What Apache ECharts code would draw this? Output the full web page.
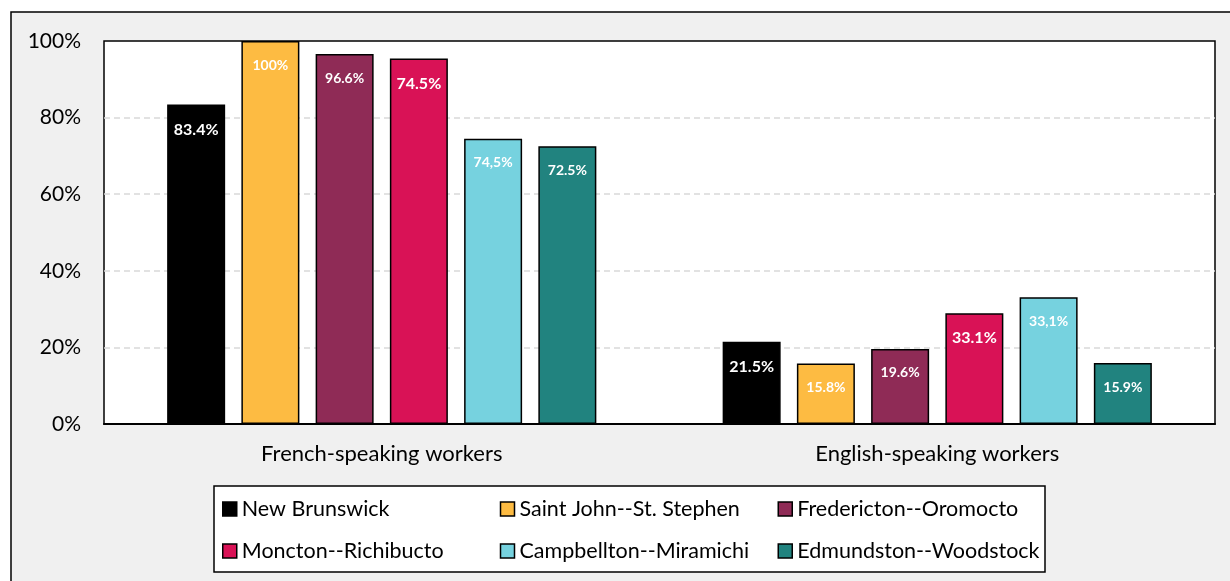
<!DOCTYPE html>
<html>
<head>
<meta charset="utf-8">
<script src="https://cdn.jsdelivr.net/npm/echarts@6/dist/echarts.min.js"></script>
<style>
  html, body { margin: 0; padding: 0; background: #fff; }
  #chart { width: 1230px; height: 581px; }
</style>
</head>
<body>
<div id="chart"></div>
<script>
// categories and series
const categories = ['French-speaking workers', 'English-speaking workers'];
const regions = [
  'New Brunswick',
  'Saint John--St. Stephen',
  'Fredericton--Oromocto',
  'Moncton--Richibucto',
  'Campbellton--Miramichi',
  'Edmundston--Woodstock'
];

// bar heights
const newBrunswick = [83.4, 21.5];
const saintJohn = [100, 15.8];
const fredericton = [96.6, 19.6];
const moncton = [95.4, 28.9];
const campbellton = [74.5, 33.1];
const edmundston = [72.5, 15.9];

// label texts as printed on the bars
const newBrunswickLabels = ['83.4%', '21.5%'];
const saintJohnLabels = ['100%', '15.8%'];
const frederictonLabels = ['96.6%', '19.6%'];
const monctonLabels = ['74.5%', '33.1%'];
const campbelltonLabels = ['74,5%', '33,1%'];
const edmundstonLabels = ['72.5%', '15.9%'];

const yTicks = [0, 20, 40, 60, 80, 100];

const values = [newBrunswick, saintJohn, fredericton, moncton, campbellton, edmundston];
const labels = [newBrunswickLabels, saintJohnLabels, frederictonLabels, monctonLabels, campbelltonLabels, edmundstonLabels];
const colors = ['#000000', '#FDBB42', '#8F2B56', '#D91256', '#76D2DF', '#21837F'];
const labelSizes = [16, 14, 14, 16, 14, 14];

const FONT = 'Lato, "Open Sans", sans-serif';

const series = regions.map((name, i) => ({
  name: name,
  type: 'bar',
  barWidth: 58,
  barGap: '28%',
  data: values[i],
  itemStyle: { color: colors[i], borderColor: '#000', borderWidth: 1.5 },
  label: {
    show: true,
    position: 'insideTop',
    distance: 17,
    color: '#fff',
    fontWeight: 'bold',
    fontFamily: FONT,
    fontSize: labelSizes[i],
    formatter: p => labels[i][p.dataIndex]
  }
}));

const legendBase = {
  orient: 'horizontal',
  left: 222,
  padding: 0,
  itemGap: 0,
  itemWidth: 14,
  itemHeight: 14,
  icon: 'rect',
  z: 10,
  itemStyle: { borderColor: '#000', borderWidth: 1.5 },
  textStyle: { fontFamily: FONT, fontSize: 21.5, color: '#000', width: 258, lineHeight: 24 }
};

const chart = echarts.init(document.getElementById('chart'));
chart.setOption({
  backgroundColor: '#fff',
  animation: false,
  graphic: [
    {
      type: 'rect', z: -10,
      shape: { x: 11, y: 12, width: 1240, height: 600 },
      style: { fill: '#f0f0f0', stroke: '#000', lineWidth: 1.5 }
    },
    {
      type: 'rect', z: 1,
      shape: { x: 214, y: 486, width: 831, height: 86 },
      style: { fill: '#fff', stroke: '#000', lineWidth: 1.5 }
    }
  ],
  legend: [
    Object.assign({}, legendBase, { top: 497, data: regions.slice(0, 3) }),
    Object.assign({}, legendBase, { top: 539, data: regions.slice(3) })
  ],
  grid: {
    left: 104, right: 15, top: 41, bottom: 157,
    show: true,
    backgroundColor: '#fff',
    borderColor: '#000',
    borderWidth: 1.5
  },
  xAxis: {
    type: 'category',
    data: categories,
    axisLine: { lineStyle: { color: '#000', width: 2 } },
    axisTick: { show: false },
    axisLabel: { color: '#000', fontFamily: FONT, fontSize: 22, margin: 19 }
  },
  yAxis: {
    type: 'value',
    min: yTicks[0],
    max: yTicks[yTicks.length - 1],
    interval: 20,
    axisLine: { show: false },
    axisTick: { show: false },
    axisLabel: { color: '#000', fontFamily: FONT, fontSize: 21, margin: 23, formatter: '{value}%' },
    splitLine: { showMaxLine: false, lineStyle: { color: '#d9d9d9', width: 1.5, type: [6, 4] } }
  },
  series: series
});
</script>
</body>
</html>
